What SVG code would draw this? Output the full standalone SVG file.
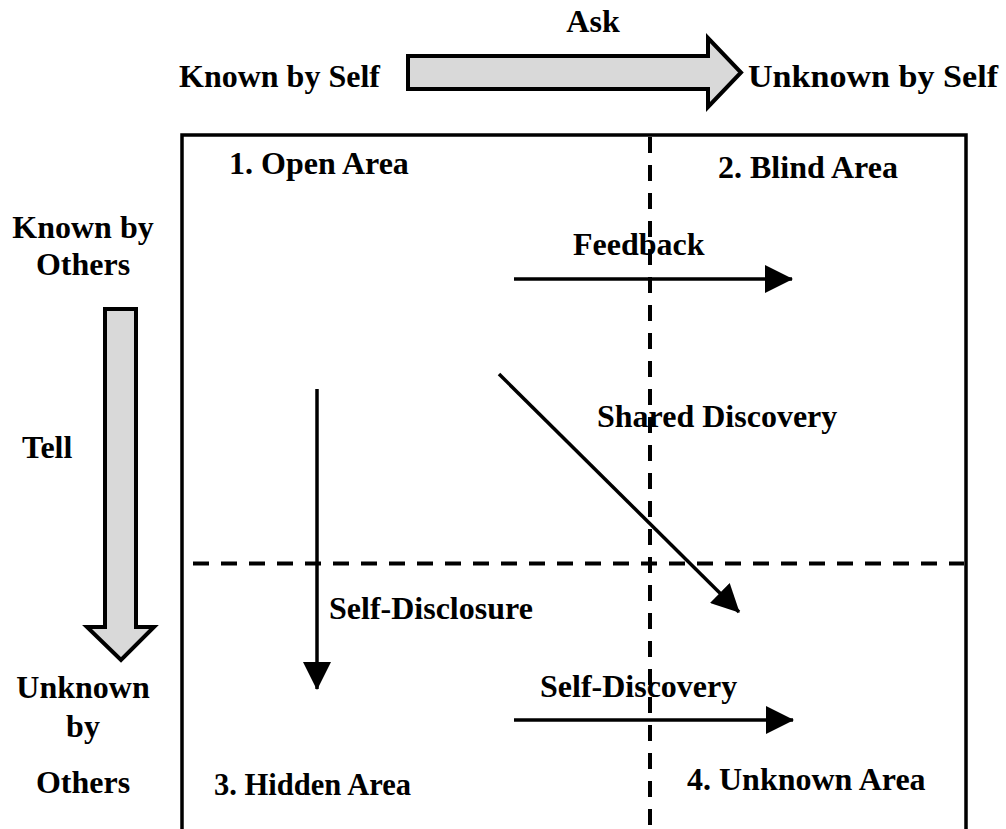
<svg xmlns="http://www.w3.org/2000/svg" width="1006" height="829" viewBox="0 0 1006 829">
<defs>
<style>
text{font-family:"Liberation Serif","Times New Roman",serif;font-weight:bold;font-size:32px;fill:#000}
.big{fill:#d9d9d9;stroke:#000;stroke-width:4;stroke-linejoin:miter}
.dash{stroke:#000;stroke-width:4;stroke-dasharray:16 12;fill:none}
.arr{stroke:#000;stroke-width:3.5;fill:none}
.frame{stroke:#000;stroke-width:3.5;fill:none}
</style>
<marker id="ah" markerUnits="userSpaceOnUse" markerWidth="28" markerHeight="28" viewBox="0 0 28 28" refX="27" refY="14" orient="auto">
<path d="M0,0 L28,14 L0,28 Z" fill="#000"/>
</marker>
</defs>
<rect width="1006" height="829" fill="#fff"/>
<g id="frame">
<path class="frame" d="M182,829 V135 H966 V829"/>
<path class="dash" d="M650,137 V829"/>
<path class="dash" d="M193,563.5 H964"/>
</g>
<g id="ask-arrow">
<path class="big" d="M408,56 H708 V38 L741,72.5 L708,107 V89 H408 Z"/>
<text x="593" y="32" text-anchor="middle">Ask</text>
</g>
<g id="tell-arrow">
<path class="big" d="M105,309 H136 V627 H154 L121,660 L87,627 H105 Z"/>
<text x="22" y="458">Tell</text>
</g>
<g id="known-self"><text x="179" y="87">Known by Self</text></g>
<g id="unknown-self"><text x="748" y="87" textLength="250" lengthAdjust="spacingAndGlyphs">Unknown by Self</text></g>
<g id="known-others"><text x="83" y="238" text-anchor="middle">Known by</text><text x="83" y="275" text-anchor="middle">Others</text></g>
<g id="unknown-others"><text x="83" y="698" text-anchor="middle">Unknown</text><text x="83" y="737" text-anchor="middle">by</text><text x="83" y="793" text-anchor="middle">Others</text></g>
<g id="open-area"><text x="229" y="174">1. Open Area</text></g>
<g id="blind-area"><text x="718" y="178">2. Blind Area</text></g>
<g id="hidden-area"><text x="214" y="795" textLength="197" lengthAdjust="spacingAndGlyphs">3. Hidden Area</text></g>
<g id="unknown-area"><text x="687" y="790">4. Unknown Area</text></g>
<g id="connectors">
<line class="arr" x1="514" y1="279" x2="792" y2="279" marker-end="url(#ah)"/>
<line class="arr" x1="317" y1="389" x2="317" y2="689" marker-end="url(#ah)"/>
<line class="arr" x1="499" y1="374" x2="739" y2="612" marker-end="url(#ah)"/>
<line class="arr" x1="514" y1="720" x2="793" y2="720" marker-end="url(#ah)"/>
</g>
<g id="labels">
<text x="573" y="255">Feedback</text>
<text x="597" y="427">Shared Discovery</text>
<text x="329" y="619">Self-Disclosure</text>
<text x="540" y="697">Self-Discovery</text>
</g>
</svg>
